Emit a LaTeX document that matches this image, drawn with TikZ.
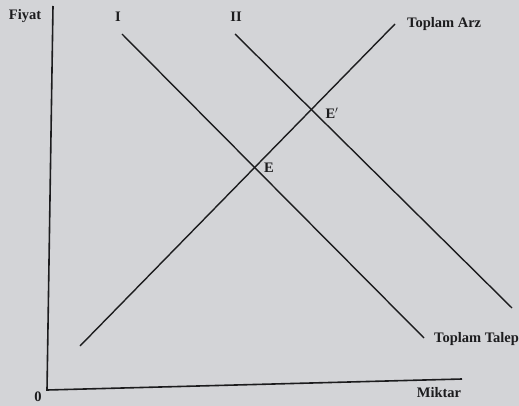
\documentclass[tikz,border=0pt]{standalone}
\usepackage{fontspec}
\setmainfont{Liberation Serif}
\usepackage{tikz}
\usepackage{xcolor}
\usetikzlibrary{positioning,calc}
\definecolor{paper}{HTML}{D3D4D7}
\definecolor{ink}{HTML}{1C1C1E}
\tikzset{
  axisline/.style={draw=ink,line width=1.6pt},
  curveline/.style={draw=ink,line width=1.4pt},
  axlabel/.style={font=\fontsize{14.5}{16}\selectfont\bfseries,text=ink,inner sep=1pt},
  ptlabel/.style={font=\fontsize{14.5}{16}\selectfont\bfseries,text=ink,inner sep=1pt}
}

\begin{document}
\begin{tikzpicture}[x=1pt,y=-1pt]
      \clip (0,0) rectangle (519,406);
      \fill[paper] (0,0) rectangle (519,406);
      % axes
      \coordinate (ytop) at (53,6);
      \coordinate (orig) at (47,390);
      \coordinate (xend) at (462,379);
      \draw[axisline] (ytop) -- (orig) -- (xend);
      \node[axlabel] (fiyat) at (25,16) {Fiyat};
      \node[axlabel] (miktar) at (439,393) {Miktar};
      \node[axlabel] (zero) at (38,397) {0};
      % demand curves
      \coordinate (d1a) at (122,34);
      \coordinate (d1b) at (424,338);
      \coordinate (d2a) at (235,34);
      \coordinate (d2b) at (512,308);
      \draw[curveline] (d1a) -- (d1b);
      \draw[curveline] (d2a) -- (d2b);
      \node[axlabel] (lblI) at (118,17) {I};
      \node[axlabel] (lblII) at (236,17) {II};
      \node[axlabel,anchor=west] (talep) at (433,339) {Toplam Talep};
      % supply curve
      \coordinate (sa) at (80,346);
      \coordinate (sb) at (395,24);
      \draw[curveline] (sa) -- (sb);
      \node[axlabel,anchor=west] (arz) at (406,24) {Toplam Arz};
      % equilibria
      \node[ptlabel] (eqE) at (269,168) {E};
      \node[ptlabel] (eqE2) at (332,113) {E$'$};
    \end{tikzpicture}
\end{document}
